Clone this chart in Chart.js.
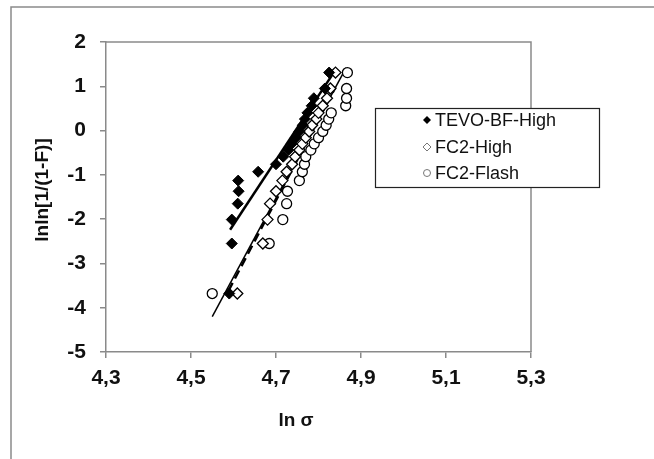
<!DOCTYPE html>
<html lang="en">
<head>
<meta charset="UTF-8">
<title>Weibull plot</title>
<script src="https://cdn.jsdelivr.net/npm/chart.js"></script>
<style>
  html, body { margin: 0; padding: 0; background: #fff; }
</style>
</head>
<body>
<canvas id="myChart" width="654" height="459"></canvas>
<script>
var xTicks = [4.3, 4.5, 4.7, 4.9, 5.1, 5.3];
var yTicks = [-5, -4, -3, -2, -1, 0, 1, 2];
var seriesNames = ['TEVO-BF-High', 'FC2-High', 'FC2-Flash'];

// lnln[1/(1-F)] levels, same 20 ranks for each series
var rankY = [-3.68, -2.55, -2.01, -1.65, -1.37, -1.13, -0.93, -0.76, -0.59, -0.44,
             -0.30, -0.16, -0.02, 0.12, 0.26, 0.40, 0.56, 0.73, 0.95, 1.31];
// ln sigma for each rank
var tevoX = [4.590, 4.596, 4.596, 4.610, 4.612, 4.611, 4.658, 4.700, 4.717, 4.729,
             4.737, 4.747, 4.755, 4.763, 4.768, 4.774, 4.784, 4.789, 4.815, 4.825];
var fc2HighX = [4.609, 4.669, 4.680, 4.686, 4.700, 4.715, 4.725, 4.738, 4.745, 4.755,
                4.762, 4.770, 4.778, 4.785, 4.795, 4.800, 4.810, 4.820, 4.828, 4.840];
var fc2FlashX = [4.550, 4.684, 4.716, 4.725, 4.727, 4.755, 4.762, 4.767, 4.770, 4.782,
                 4.790, 4.800, 4.810, 4.818, 4.824, 4.830, 4.864, 4.866, 4.866, 4.868];

// fitted lines (end points)
var tevoFitX = [4.592, 4.840];
var tevoFitY = [-2.24, 1.37];
var fc2HighFitX = [4.588, 4.840];
var fc2HighFitY = [-3.62, 0.98];
var fc2FlashFitX = [4.550, 4.865];
var fc2FlashFitY = [-4.20, 1.42];

function pts(xs, ys) {
    var out = [];
    for (var i = 0; i < xs.length; i++) out.push({ x: xs[i], y: ys[i] });
    return out;
}

var FONT = '"Liberation Sans", Arial, sans-serif';

var framePlugin = {
    id: 'frame',
    beforeDraw: function (chart) {
        var ctx = chart.ctx;
        ctx.save();
        ctx.strokeStyle = '#8a8a8a';
        ctx.lineWidth = 1.5;
        ctx.beginPath();
        ctx.moveTo(11, 459);
        ctx.lineTo(11, 7);
        ctx.lineTo(654, 7);
        ctx.stroke();
        ctx.restore();
    },
    afterDraw: function (chart) {
        var ctx = chart.ctx;
        var a = chart.chartArea;
        ctx.save();
        // top + right edge of plot box
        ctx.strokeStyle = '#8a8a8a';
        ctx.lineWidth = 1.5;
        ctx.beginPath();
        ctx.moveTo(a.left, a.top);
        ctx.lineTo(a.right, a.top);
        ctx.lineTo(a.right, a.bottom);
        ctx.stroke();

        // axis titles
        ctx.fillStyle = '#111';
        ctx.font = 'bold 19px ' + FONT;
        ctx.textAlign = 'center';
        ctx.textBaseline = 'middle';
        ctx.fillText('ln σ', 296, 421);
        ctx.save();
        ctx.translate(43, 190);
        ctx.rotate(-Math.PI / 2);
        ctx.fillText('lnln[1/(1-F)]', 0, 0);
        ctx.restore();

        // legend box
        ctx.fillStyle = '#fff';
        ctx.fillRect(375, 108, 224, 79);
        ctx.strokeStyle = '#222';
        ctx.lineWidth = 1.2;
        ctx.strokeRect(375.5, 108.5, 224, 79);
        var rows = [120, 147, 173];
        ctx.font = '18px ' + FONT;
        ctx.textAlign = 'left';
        for (var i = 0; i < seriesNames.length; i++) {
            var y = rows[i];
            var x = 427;
            ctx.lineWidth = 1;
            if (i === 0) {
                ctx.fillStyle = '#000';
                ctx.beginPath();
                ctx.moveTo(x, y - 4); ctx.lineTo(x + 4, y); ctx.lineTo(x, y + 4); ctx.lineTo(x - 4, y);
                ctx.closePath();
                ctx.fill();
            } else if (i === 1) {
                ctx.strokeStyle = '#777';
                ctx.beginPath();
                ctx.moveTo(x, y - 4); ctx.lineTo(x + 4, y); ctx.lineTo(x, y + 4); ctx.lineTo(x - 4, y);
                ctx.closePath();
                ctx.stroke();
            } else {
                ctx.strokeStyle = '#777';
                ctx.beginPath();
                ctx.arc(x, y, 3.5, 0, Math.PI * 2);
                ctx.stroke();
            }
            ctx.fillStyle = '#111';
            ctx.fillText(seriesNames[i], 435, y + 1);
        }
        ctx.restore();
    }
};

var tickFont = { family: FONT, size: 21, weight: 'bold' };

var ctx = document.getElementById('myChart').getContext('2d');
var chart = new Chart(ctx, {
    type: 'scatter',
    data: {
        datasets: [
            {
                label: 'TEVO fit', type: 'line', data: pts(tevoFitX, tevoFitY),
                borderColor: '#000', borderWidth: 2.5, pointRadius: 0, fill: false, order: 4
            },
            {
                label: 'FC2-High fit', type: 'line', data: pts(fc2HighFitX, fc2HighFitY),
                borderColor: '#000', borderWidth: 2.5, borderDash: [9, 5], pointRadius: 0, fill: false, order: 5
            },
            {
                label: 'FC2-Flash fit', type: 'line', data: pts(fc2FlashFitX, fc2FlashFitY),
                borderColor: '#000', borderWidth: 1.5, pointRadius: 0, fill: false, order: 6
            },
            {
                label: seriesNames[2], data: pts(fc2FlashX, rankY),
                pointStyle: 'circle', pointRadius: 5, borderWidth: 1.3,
                borderColor: '#000', backgroundColor: '#fff', order: 3
            },
            {
                label: seriesNames[1], data: pts(fc2HighX, rankY),
                pointStyle: 'rectRot', pointRadius: 5.5, borderWidth: 1.3,
                borderColor: '#000', backgroundColor: '#fff', order: 2
            },
            {
                label: seriesNames[0], data: pts(tevoX, rankY),
                pointStyle: 'rectRot', pointRadius: 5.5, borderWidth: 1,
                borderColor: '#000', backgroundColor: '#000', order: 1
            }
        ]
    },
    options: {
        responsive: false,
        animation: false,
        layout: { padding: { left: 0, top: 42, right: 123, bottom: 0 } },
        plugins: { legend: { display: false }, tooltip: { enabled: false } },
        scales: {
            x: {
                type: 'linear', min: 4.3, max: 5.3,
                afterBuildTicks: function (s) { s.ticks = xTicks.map(function (v) { return { value: v }; }); },
                afterFit: function (s) { s.height = 107; },
                grid: { drawOnChartArea: false, drawTicks: true, tickLength: 6, color: '#8a8a8a', lineWidth: 1.5 },
                border: { color: '#8a8a8a', width: 1.5 },
                ticks: {
                    font: tickFont, color: '#111', padding: 8, maxRotation: 0, autoSkip: false,
                    callback: function (v) { return v.toFixed(1).replace('.', ','); }
                }
            },
            y: {
                type: 'linear', min: -5, max: 2,
                afterBuildTicks: function (s) { s.ticks = yTicks.map(function (v) { return { value: v }; }); },
                afterFit: function (s) { s.width = 106; },
                grid: { drawOnChartArea: false, drawTicks: true, tickLength: 6, color: '#8a8a8a', lineWidth: 1.5 },
                border: { color: '#8a8a8a', width: 1.5 },
                ticks: { font: tickFont, color: '#111', padding: 14 }
            }
        }
    },
    plugins: [framePlugin]
});
</script>
</body>
</html>
